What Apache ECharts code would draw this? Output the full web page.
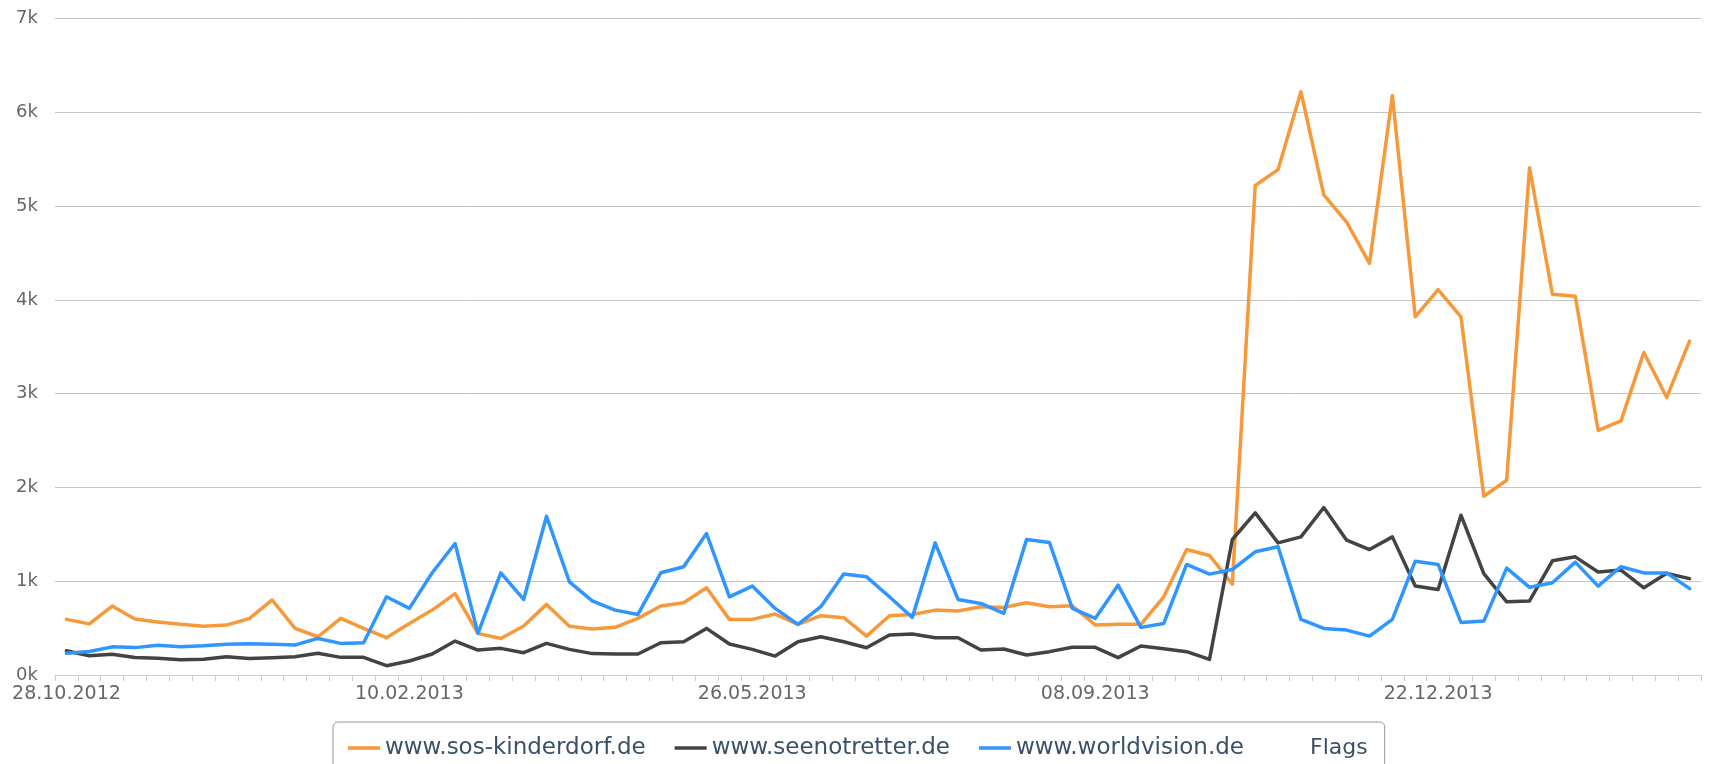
<!DOCTYPE html>
<html>
<head>
<meta charset="utf-8">
<script src="https://cdn.jsdelivr.net/npm/echarts@6/dist/echarts.min.js"></script>
<style>
html,body{margin:0;padding:0;background:#fff;}
#chart{width:1713px;height:764px;}
</style>
</head>
<body>
<div id="chart"></div>
<script>
const categories = [
 "28.10.2012","04.11.2012","11.11.2012","18.11.2012","25.11.2012","02.12.2012","09.12.2012","16.12.2012","23.12.2012","30.12.2012",
 "06.01.2013","13.01.2013","20.01.2013","27.01.2013","03.02.2013","10.02.2013","17.02.2013","24.02.2013","03.03.2013","10.03.2013",
 "17.03.2013","24.03.2013","31.03.2013","07.04.2013","14.04.2013","21.04.2013","28.04.2013","05.05.2013","12.05.2013","19.05.2013",
 "26.05.2013","02.06.2013","09.06.2013","16.06.2013","23.06.2013","30.06.2013","07.07.2013","14.07.2013","21.07.2013","28.07.2013",
 "04.08.2013","11.08.2013","18.08.2013","25.08.2013","01.09.2013","08.09.2013","15.09.2013","22.09.2013","29.09.2013","06.10.2013",
 "13.10.2013","20.10.2013","27.10.2013","03.11.2013","10.11.2013","17.11.2013","24.11.2013","01.12.2013","08.12.2013","15.12.2013",
 "22.12.2013","29.12.2013","05.01.2014","12.01.2014","19.01.2014","26.01.2014","02.02.2014","09.02.2014","16.02.2014","23.02.2014",
 "02.03.2014","09.03.2014"
];

const sosKinderdorf = [
 593,545,735,598,566,540,520,532,602,800,
 497,408,604,497,398,550,692,868,444,390,
 522,753,520,490,508,604,735,770,930,593,
 593,650,540,632,611,415,632,646,692,682,
 728,721,770,728,738,533,540,540,834,1338,
 1275,969,5220,5390,6220,5120,4830,4390,6180,3820,
 4110,3820,1906,2077,5410,4060,4040,2610,2710,3440,
 2960,3560
];

const seenotretter = [
 258,206,222,186,178,163,168,195,176,185,
 195,231,188,188,99,149,224,362,266,284,
 238,337,273,228,224,224,344,355,497,330,
 273,202,355,408,355,291,426,437,398,398,
 266,277,213,249,295,295,185,309,280,249,
 167,1445,1729,1409,1473,1786,1438,1338,1473,948,
 912,1704,1080,780,790,1218,1260,1098,1119,930,
 1084,1028
];

const worldvision = [
 231,250,300,292,318,302,311,328,333,327,
 320,390,337,344,834,710,1090,1402,444,1090,
 806,1693,994,790,692,646,1090,1154,1509,834,
 948,710,540,728,1076,1047,834,614,1409,806,
 763,657,1445,1413,710,603,958,508,550,1179,
 1076,1125,1314,1367,593,497,479,415,593,1214,
 1179,561,575,1140,935,983,1204,948,1155,1089,
 1089,921
];

const seriesNames = ["www.sos-kinderdorf.de","www.seenotretter.de","www.worldvision.de","Flags"];
const seriesColors = ["#F7993A","#434343","#2F96FF"];
const yTicks = ["0k","1k","2k","3k","4k","5k","6k","7k"];

const chart = echarts.init(document.getElementById('chart'), null, {renderer:'canvas'});

function lineSeries(name, data, color){
  return {
    name: name, type: 'line', data: data, symbol: 'none', smooth: false,
    animation: false,
    lineStyle: {color: color, width: 3.5, cap: 'round', join: 'round'},
    itemStyle: {color: color}
  };
}

const legendLineIcon = 'path://M0,0 L32,0 L32,3.6 L0,3.6 Z';
const legendText = {color: '#3a5068', fontFamily: 'DejaVu Sans', fontSize: 23, lineHeight: 26};

const option = {
  backgroundColor: '#ffffff',
  animation: false,
  grid: {left: 55, right: 12, top: 18.6, bottom: 89, containLabel: false, outerBoundsMode: 'none'},
  xAxis: {
    type: 'category',
    data: categories,
    boundaryGap: true,
    axisLine: {show: true, lineStyle: {color: '#C0D0E0', width: 1}},
    axisTick: {show: true, interval: 0, alignWithLabel: false, length: 6, lineStyle: {color: '#C0D0E0', width: 1}},
    axisLabel: {interval: 14, margin: 9, color: '#666666', fontFamily: 'DejaVu Sans', fontSize: 19, lineHeight: 20},
    splitLine: {show: false}
  },
  yAxis: {
    type: 'value',
    min: 0, max: 7000, interval: 1000,
    axisLine: {show: false},
    axisTick: {show: false},
    axisLabel: {
      margin: 17, color: '#666666', fontFamily: 'DejaVu Sans', fontSize: 18,
      verticalAlign: 'middle', padding: [15,0,0,0],
      formatter: function(v){ return yTicks[Math.round(v/1000)]; }
    },
    splitLine: {show: true, lineStyle: {color: '#C4C4C4', width: 1}}
  },
  legend: {
    left: 333, top: 722,
    orient: 'horizontal',
    itemWidth: 32, itemHeight: 14, itemGap: 29,
    padding: [13, 17, 19, 15],
    borderColor: '#989898', borderWidth: 1, borderRadius: 5,
    backgroundColor: '#ffffff',
    textStyle: legendText,
    data: [
      {name: seriesNames[0], icon: legendLineIcon},
      {name: seriesNames[1], icon: legendLineIcon},
      {name: seriesNames[2], icon: legendLineIcon},
      {name: seriesNames[3], icon: legendLineIcon, itemStyle: {opacity: 0}, lineStyle: {opacity: 0},
       textStyle: {color: '#3a5068', fontFamily: 'DejaVu Sans', fontSize: 22, lineHeight: 26}}
    ],
    selectedMode: false
  },
  series: [
    lineSeries(seriesNames[0], sosKinderdorf, seriesColors[0]),
    lineSeries(seriesNames[1], seenotretter, seriesColors[1]),
    lineSeries(seriesNames[2], worldvision, seriesColors[2]),
    {name: seriesNames[3], type: 'line', data: [], symbol: 'none',
     lineStyle: {opacity: 0, color: '#ffffff'}, itemStyle: {opacity: 0, color: '#ffffff'}}
  ]
};
chart.setOption(option);
</script>
</body>
</html>
